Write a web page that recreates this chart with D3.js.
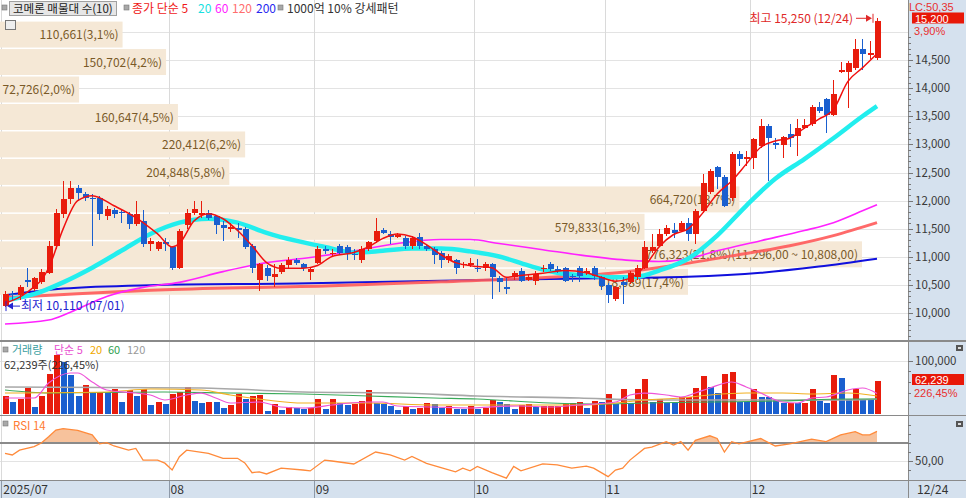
<!DOCTYPE html>
<html>
<head>
<meta charset="utf-8">
<script src="https://cdn.jsdelivr.net/npm/d3@7"></script>
<style>
  body { margin: 0; background: #fff; }
  svg { display: block; font-family: "Noto Sans CJK KR", "Noto Sans", sans-serif; }
  .num { font-family: "Liberation Sans", "DejaVu Sans", sans-serif; }
</style>
</head>
<body>
<svg id="chart" width="966" height="498"></svg>
<script>
// ---- data ----
const monthIdx = [0, 23, 43, 65, 83, 103];
const monthLabels = ["2025/07", "08", "09", "10", "11", "12"];

const opens = [10130,10350,10320,10590,10440,10550,10720,11200,11770,12030,
  12230,12120,12050,12050,11730,11840,11800,11770,11590,11640,
  11240,11150,11260,11170,10810,11560,11790,11750,11790,11730,
  11560,11500,11510,11500,11200,10600,10800,10640,10740,10850,
  10940,10870,10740,10900,11150,11060,11200,11180,11060,10940,
  11150,11290,11480,11400,11370,11340,11200,11360,11200,11150,
  11080,10940,10940,10850,10850,10810,10800,10880,10620,10460,
  10640,10760,10600,10580,10780,10880,10790,10810,10670,10810,
  10710,10800,10640,10500,10250,10550,10550,10640,10810,11110,
  11200,11410,11480,11470,11610,11410,11820,12160,12600,12420,
  12050,12830,12740,12760,12970,13320,13020,12990,13180,13150,
  13300,13360,13660,13800,13530,14290,14280,14350,14700,14590,14530];
const highs = [10400,10400,10500,10800,10650,10780,11290,11850,12350,12350,
  12280,12160,12120,12080,11900,11870,11850,11800,12000,11830,
  11340,11290,11340,11200,11500,11850,12000,12000,11830,11750,
  11640,11600,11610,11540,11230,10900,10860,10880,10900,11000,
  10980,10900,10830,11200,11200,11150,11240,11220,11150,11200,
  11290,11700,11520,11470,11430,11380,11380,11430,11240,11180,
  11100,11050,10970,10920,10980,10960,10920,10900,10670,10620,
  10760,10800,10700,10760,10860,10920,10840,10830,10700,10840,
  10800,10840,10660,10530,10480,10640,10750,10850,11290,11410,
  11500,11560,11610,11640,11700,11850,12470,12560,12620,12450,
  12860,12880,12880,13110,13460,13360,13110,13150,13360,13460,
  13460,13700,13760,13830,14150,14470,14480,14880,14880,14830,15250];
const lows = [10110,10230,10230,10460,10400,10520,10700,11150,11700,11950,
  12000,12000,11200,11650,11650,11700,11600,11500,11550,11170,
  11110,11100,11110,10770,10790,11500,11750,11700,11650,11400,
  11290,11450,11340,11150,10720,10400,10580,10460,10700,10800,
  10850,10750,10600,10880,11050,11000,11040,10950,10940,10900,
  11100,11250,11400,11240,11330,11150,11150,11150,11100,10880,
  10800,10900,10700,10800,10820,10740,10760,10260,10370,10350,
  10600,10560,10570,10500,10740,10750,10720,10560,10560,10560,
  10680,10600,10420,10190,10210,10160,10520,10600,10780,11080,
  11170,11380,11330,11440,11290,11240,11780,12120,12200,11880,
  12000,12610,12610,12560,12940,12350,12920,12760,12950,12800,
  13280,13330,13560,13200,13500,14270,13640,14330,14330,14520,14500];
const closes = [10340,10330,10460,10570,10620,10740,11200,11790,12030,12230,
  12140,12050,12030,11770,11860,11770,11780,11590,11770,11240,
  11290,11260,11240,10800,11470,11790,11860,11790,11700,11560,
  11520,11540,11490,11170,10800,10880,10670,10690,10850,10940,
  10900,10800,10780,11150,11110,11080,11080,11080,11040,11150,
  11260,11470,11430,11360,11390,11200,11340,11200,11150,11030,
  10940,11010,10800,10880,10900,10780,10880,10640,10550,10440,
  10720,10580,10640,10690,10810,10780,10760,10580,10640,10670,
  10760,10670,10480,10320,10460,10500,10710,10810,11170,11170,
  11410,11520,11430,11610,11410,11820,12310,12530,12420,11910,
  12830,12740,12770,13090,13320,13110,12990,13130,13110,13300,
  13340,13660,13590,13530,13900,14330,14440,14700,14600,14630,15200];
const volumes = [33600,23000,28000,49200,13700,33600,74000,110000,98000,73000,
  33600,54000,40000,42000,41000,46000,23000,45000,33600,46000,
  17000,22400,18700,36800,40500,51000,24300,20000,22400,21500,
  10600,17000,36800,28700,33600,35500,5600,18000,7500,13700,
  10600,10000,11000,28700,8700,27400,20000,17000,18700,24300,
  45500,20000,18000,15000,7500,15600,9300,11800,20600,18700,
  11800,15000,9300,9000,15600,9300,11800,26000,21800,18000,
  9300,16800,18700,13700,14200,15200,15600,18700,21000,23000,
  10600,24300,23000,37400,18700,46000,20000,46000,65000,23000,
  27400,21000,20000,31000,32400,48000,71600,51000,40000,74800,
  78000,23000,21800,46000,32400,32000,26000,20000,21000,20000,
  21000,46000,24300,20000,73000,66700,27400,46700,28000,27484,62239];

// moving averages: [day index, value]
const ma5Pts = [[0,10180],[3,10370],[6,10800],[8,11500],[10,12000],[12,12090],[15,11910],[18,11700],[21,11410],[23,11180],[24,11240],[26,11640],[28,11770],[30,11680],[32,11470],[34,11200],[36,10900],[38,10800],[41,10800],[43,10850],[45,11010],[48,11080],[50,11180],[52,11330],[54,11410],[56,11360],[58,11220],[60,11040],[62,10900],[65,10830],[67,10810],[69,10640],[71,10670],[74,10710],[77,10760],[80,10720],[82,10640],[84,10570],[86,10620],[88,10830],[90,11180],[92,11400],[94,11500],[96,11780],[98,12120],[100,12350],[102,12650],[104,12950],[106,13060],[108,13110],[110,13290],[112,13450],[114,13620],[116,14120],[118,14360],[120,14610]];
const ma20Pts = [[0,10230],[4,10340],[8,10550],[12,10810],[16,11110],[20,11410],[24,11610],[28,11680],[32,11610],[36,11430],[40,11290],[44,11180],[48,11080],[52,11110],[56,11150],[60,11150],[64,11100],[68,11010],[72,10850],[76,10720],[80,10670],[84,10640],[87,10650],[90,10760],[94,10970],[98,11380],[102,11910],[106,12390],[110,12740],[114,13110],[118,13500],[120,13680]];
const ma60Pts = [[0,9810],[6,9880],[9,10020],[14,10300],[19,10460],[24,10550],[30,10740],[36,10900],[42,10990],[48,11110],[54,11240],[60,11310],[64,11310],[68,11240],[74,11130],[80,11020],[86,10940],[90,10920],[94,10970],[98,11110],[104,11290],[110,11470],[114,11610],[118,11820],[120,11930]];
const ma120Pts = [[0,10280],[22,10420],[45,10490],[60,10560],[75,10640],[85,10730],[92,10850],[100,11020],[108,11200],[114,11380],[120,11610]];
const ma200Pts = [[0,10320],[8,10440],[20,10500],[40,10530],[60,10580],[80,10620],[94,10650],[104,10720],[112,10830],[120,10970]];

const vma5Pts = [[0,29900],[4,29900],[6,57900],[9,76600],[10,76600],[12,59800],[14,44900],[18,39200],[20,35500],[22,26200],[25,35500],[27,39200],[29,29900],[31,20600],[35,22400],[38,13100],[41,11200],[43,13100],[45,16800],[50,22400],[52,22400],[54,15000],[59,13100],[64,11200],[67,13500],[71,15000],[75,13100],[79,16800],[84,22400],[86,35500],[88,39200],[91,35500],[93,31800],[95,39200],[97,48600],[100,59800],[102,50500],[104,39200],[107,22400],[109,20600],[111,29900],[113,31800],[116,44900],[118,48600],[120,38400]];
const vma20Pts = [[0,39200],[14,41100],[20,46700],[27,44900],[31,35500],[36,26200],[41,20600],[50,20600],[59,16800],[65,16800],[79,16800],[84,20600],[88,26200],[93,29900],[97,35500],[102,39200],[107,39200],[111,37400],[116,39200],[120,33600]];
const vma60Pts = [[0,44900],[6,39200],[22,41100],[31,39200],[41,37400],[50,33600],[59,29900],[65,28000],[75,20600],[82,18700],[88,20600],[97,22400],[107,24300],[116,28000],[120,28000]];
const vma120Pts = [[0,50500],[27,48600],[41,41100],[54,39200],[65,33600],[79,29900],[88,26200],[102,26200],[116,26200],[120,28000]];

const rsiPts = [[0,58.5],[1,56.7],[2,62],[4,66],[5,70],[6,77],[7,84.4],[8,86],[10,84],[12,79],[13,69],[14,70.4],[15,66.7],[17,62],[18,64],[19,51],[21,51],[22,47.6],[23,40],[24,54.8],[25,62],[28,58.5],[30,53],[32,53],[33,47.8],[34,37],[35,38],[36,35.6],[38,42],[41,40],[42,39],[44,51],[45,50],[48,46.7],[51,60],[53,56.7],[55,51],[56,55],[58,47.4],[60,42.6],[62,38],[63,42],[64,39],[65,44],[67,37],[69,31],[70,44],[71,39],[74,46.7],[76,45.6],[78,42],[80,44.4],[81,42],[83,32.6],[84,40],[85,42],[86,51],[88,64],[89,65.5],[91,71.5],[92,67.8],[93,71.5],[94,62],[95,73],[97,78],[98,75],[99,60],[100,71.5],[101,69],[104,75],[106,66.7],[108,69],[111,74.4],[113,71.5],[115,79],[117,82.6],[118,79],[119,79],[120,83]];

// volume profile (매물대), top band first
const profVolumes = [110661,150702,72726,160647,220412,204848,664720,579833,776323,618089];
const profPcts = [3.1,4.2,2.0,4.5,6.2,5.8,18.7,16.3,21.8,17.4];
const profTop = 15200, profStep = 488;

const priceTicks = [10000,10500,11000,11500,12000,12500,13000,13500,14000,14500];

// ---- layout ----
const svg = d3.select("#chart");
const W = 966, H = 498, axisX = 908;
const RED = "#e81c0c", BLUE = "#1a5fcf";

const x = d3.scaleLinear().domain([0, 120]).range([5, 877]);
const step = x(1) - x(0);
const y = d3.scaleLinear().domain([10000, 14500]).range([313.3, 60]);
const yv = d3.scaleLinear().domain([0, 100000]).range([414, 360.5]);
const yr = d3.scaleLinear().domain([50, 70]).range([461, 443]);
const profX = d3.scaleLinear().domain([0, d3.max(profPcts)]).range([0, 862]);
// this terminal prints decimals with a comma: 11296 -> "11,296,00"
const kfmt = v => d3.format(",.2f")(v).replace(".", ",");

const defs = svg.append("defs");
defs.append("clipPath").attr("id", "cMain").append("rect").attr("x", 0).attr("y", 16).attr("width", axisX).attr("height", 324);
defs.append("clipPath").attr("id", "cVol").append("rect").attr("x", 0).attr("y", 343).attr("width", axisX).attr("height", 72);
defs.append("clipPath").attr("id", "cRsiTop").append("rect").attr("x", 0).attr("y", 416).attr("width", axisX).attr("height", yr(70) - 416);

// backgrounds
svg.append("rect").attr("width", W).attr("height", H).attr("fill", "#fff");
svg.append("rect").attr("x", axisX).attr("y", 0).attr("width", W - axisX).attr("height", H).attr("fill", "#d5e1ee");
svg.append("rect").attr("x", 0).attr("y", 481).attr("width", axisX).attr("height", H - 481).attr("fill", "#d5e1ee");

// grid
const grid = svg.append("g").attr("shape-rendering", "crispEdges");
grid.selectAll(".hp").data(priceTicks.concat([15000])).join("line")
  .attr("x1", 0).attr("x2", axisX).attr("y1", d => Math.round(y(d))).attr("y2", d => Math.round(y(d)))
  .attr("stroke", "#e3e3e3");
grid.append("line").attr("x1", 0).attr("x2", axisX).attr("y1", Math.round(yv(100000))).attr("y2", Math.round(yv(100000))).attr("stroke", "#e3e3e3");
grid.append("line").attr("x1", 0).attr("x2", axisX).attr("y1", Math.round(yr(50))).attr("y2", Math.round(yr(50))).attr("stroke", "#e3e3e3");
grid.selectAll(".vm").data(monthIdx).join("line")
  .attr("x1", d => Math.round(x(d) - step / 2)).attr("x2", d => Math.round(x(d) - step / 2))
  .attr("y1", 0).attr("y2", 480).attr("stroke", "#dadada");
grid.selectAll(".vma").data(monthIdx).join("line")
  .attr("x1", d => Math.round(x(d) - step / 2)).attr("x2", d => Math.round(x(d) - step / 2))
  .attr("y1", 481).attr("y2", H).attr("stroke", "#8d99a8");

// volume profile bars
const prof = svg.append("g");
prof.selectAll("rect").data(profPcts).join("rect")
  .attr("x", 0).attr("width", d => profX(d))
  .attr("y", (d, i) => y(profTop - i * profStep) + 1)
  .attr("height", (d, i) => y(profTop - (i + 1) * profStep) - y(profTop - i * profStep) - 1.5)
  .attr("fill", "#f5e8d6");
const maxBand = profPcts.indexOf(d3.max(profPcts));
prof.selectAll("text").data(profPcts).join("text")
  .attr("x", d => profX(d) - 4)
  .attr("y", (d, i) => (y(profTop - i * profStep) + y(profTop - (i + 1) * profStep)) / 2 + 5)
  .attr("text-anchor", "end").attr("font-size", 12).attr("fill", "#7a5a28")
  .text((d, i) => {
    let s = d3.format(",")(profVolumes[i]) + "(" + d.toFixed(1).replace(".", ",") + "%)";
    if (i === maxBand) {
      const hi = profTop - i * profStep, lo = hi - profStep;
      s += "(" + kfmt(hi) + " ~ " + kfmt(lo) + ")";
    }
    return s;
  });

// price moving averages (under candles)
const maLine = d3.line().x(d => x(d[0])).y(d => y(d[1])).curve(d3.curveMonotoneX);
const mg = svg.append("g").attr("clip-path", "url(#cMain)").attr("fill", "none");
mg.append("path").datum(ma200Pts).attr("d", maLine).attr("stroke", "#1010dd").attr("stroke-width", 2);
mg.append("path").datum(ma120Pts).attr("d", maLine).attr("stroke", "#ff5a5a").attr("stroke-width", 3).attr("stroke-opacity", 0.9);
mg.append("path").datum(ma60Pts).attr("d", maLine).attr("stroke", "#ff22ff").attr("stroke-width", 1.6);
mg.append("path").datum(ma20Pts).attr("d", maLine).attr("stroke", "#22eeee").attr("stroke-width", 4.5);

// candles
const cg = svg.append("g").attr("shape-rendering", "crispEdges");
const days = d3.range(closes.length);
const candleColor = i => closes[i] >= opens[i] ? RED : BLUE;
cg.selectAll("line").data(days).join("line")
  .attr("x1", i => Math.round(x(i)) + 0.5).attr("x2", i => Math.round(x(i)) + 0.5)
  .attr("y1", i => y(highs[i])).attr("y2", i => y(lows[i]))
  .attr("stroke", candleColor);
cg.selectAll("rect").data(days).join("rect")
  .attr("x", i => Math.round(x(i)) - 2).attr("width", 6)
  .attr("y", i => y(Math.max(opens[i], closes[i])))
  .attr("height", i => Math.max(1.5, Math.abs(y(opens[i]) - y(closes[i]))))
  .attr("fill", candleColor);

// 5-day line on top
svg.append("path").datum(ma5Pts).attr("d", maLine).attr("fill", "none")
  .attr("stroke", "#f01010").attr("stroke-width", 1.5).attr("clip-path", "url(#cMain)");

// high / low annotations
svg.append("text").attr("x", 853).attr("y", 23).attr("text-anchor", "end")
  .attr("font-size", 12).attr("fill", "#e02828").text("최고 15,250 (12/24)");
svg.append("line").attr("x1", 856).attr("x2", 868).attr("y1", y(15250) + 0.5).attr("y2", y(15250) + 0.5).attr("stroke", "#e02828");
svg.append("path").attr("d", `M872,${y(15250) + 0.5} l-6,-3.5 v7 z`).attr("fill", "#e02828");
svg.append("line").attr("x1", 873).attr("x2", 873).attr("y1", y(15250) - 4).attr("y2", y(15250) + 5).attr("stroke", "#e02828");

svg.append("text").attr("x", 21).attr("y", 310)
  .attr("font-size", 12).attr("fill", "#2424d0").text("최저 10,110 (07/01)");
svg.append("line").attr("x1", 11).attr("x2", 20).attr("y1", y(10110) - 1).attr("y2", y(10110) - 1).attr("stroke", "#2424d0");
svg.append("path").attr("d", `M7,${y(10110) - 1} l6,-3.5 v7 z`).attr("fill", "#2424d0");
svg.append("line").attr("x1", 6).attr("x2", 6).attr("y1", y(10110) - 6).attr("y2", y(10110) + 4).attr("stroke", "#2424d0");

// top legend
const lg = svg.append("g").attr("font-size", 12);
function sq(g, px, py) {
  g.append("rect").attr("x", px).attr("y", py).attr("width", 5).attr("height", 5)
    .attr("fill", "#a8a8a8").attr("stroke", "#777").attr("stroke-width", 0.6);
}
sq(lg, 2, 5);
lg.append("rect").attr("x", 9.5).attr("y", 1.5).attr("width", 107).attr("height", 14)
  .attr("fill", "#e6e6e6").attr("stroke", "#a0a0a0");
lg.append("text").attr("x", 13).attr("y", 13).attr("fill", "#222").attr("font-size", 11.5).text("코메론 매물대 수(10)");
sq(lg, 124, 5);
const legItems = [["종가 단순 5", "#f01818", 132], ["20", "#18e0e0", 198], ["60", "#ff22ff", 215], ["120", "#ff6e6e", 232], ["200", "#2828f0", 256]];
legItems.forEach(d => lg.append("text").attr("x", d[2]).attr("y", 13).attr("fill", d[1]).text(d[0]));
sq(lg, 278, 5);
lg.append("text").attr("x", 287).attr("y", 13).attr("fill", "#333").text("1000억 10% 강세패턴");
lg.append("rect").attr("x", 5.5).attr("y", 20.5).attr("width", 10).attr("height", 9)
  .attr("fill", "#eee").attr("stroke", "#777");

// panel separators
const sep = svg.append("g").attr("shape-rendering", "crispEdges");
[[341, "#8a8a8a", 2], [415.5, "#8a8a8a", 1.5], [480.5, "#8a8a8a", 1.5]].forEach(d =>
  sep.append("line").attr("x1", 0).attr("x2", W).attr("y1", d[0]).attr("y2", d[0]).attr("stroke", d[1]).attr("stroke-width", d[2]));
sep.append("line").attr("x1", axisX + 0.5).attr("x2", axisX + 0.5).attr("y1", 0).attr("y2", H).attr("stroke", "#8a8a8a");

// volume bars
const vg = svg.append("g").attr("shape-rendering", "crispEdges").attr("clip-path", "url(#cVol)");
const volColor = i => (i === 0 || volumes[i] > volumes[i - 1]) ? RED : BLUE;
vg.selectAll("rect").data(days).join("rect")
  .attr("x", i => Math.round(x(i)) - 2.5).attr("width", 6.5)
  .attr("y", i => yv(volumes[i])).attr("height", i => yv(0) - yv(volumes[i]))
  .attr("fill", volColor);
const vLine = d3.line().x(d => x(d[0])).y(d => yv(d[1])).curve(d3.curveMonotoneX);
const vl = svg.append("g").attr("fill", "none").attr("clip-path", "url(#cVol)");
vl.append("path").datum(vma120Pts).attr("d", vLine).attr("stroke", "#a8a8a8").attr("stroke-width", 1.6);
vl.append("path").datum(vma60Pts).attr("d", vLine).attr("stroke", "#3aaa5a").attr("stroke-width", 1.1);
vl.append("path").datum(vma20Pts).attr("d", vLine).attr("stroke", "#f2b020").attr("stroke-width", 1.1);
vl.append("path").datum(vma5Pts).attr("d", vLine).attr("stroke", "#ee55d8").attr("stroke-width", 1.2);

const vlg = svg.append("g").attr("font-size", 11);
sq(vlg, 3, 347);
[["거래량", "#3a9ea0", 12], ["단순 5", "#e850d0", 54], ["20", "#f0a800", 90], ["60", "#30a050", 108], ["120", "#9a9a9a", 127]]
  .forEach(d => vlg.append("text").attr("x", d[2]).attr("y", 353.5).attr("fill", d[1]).text(d[0]));
vlg.append("text").attr("x", 4).attr("y", 368.5).attr("fill", "#333").attr("font-size", 11).text("62,239주(226,45%)");

// RSI
const rLine = d3.line().x(d => x(d[0])).y(d => yr(d[1]));
const rArea = d3.area().x(d => x(d[0])).y0(yr(70)).y1(d => yr(d[1]));
svg.append("path").datum(rsiPts).attr("d", rArea).attr("fill", "#f7c29c").attr("clip-path", "url(#cRsiTop)");
svg.append("line").attr("x1", 0).attr("x2", axisX).attr("y1", yr(70)).attr("y2", yr(70))
  .attr("stroke", "#8a8a8a").attr("stroke-width", 1.5).attr("shape-rendering", "crispEdges");
svg.append("path").datum(rsiPts).attr("d", rLine).attr("fill", "none").attr("stroke", "#ff8a3a").attr("stroke-width", 1.3);
sq(svg, 3, 421);
svg.append("text").attr("x", 13).attr("y", 430).attr("font-size", 11.5).attr("fill", "#ff7a30").text("RSI 14");

// right price axis
const ax = svg.append("g").attr("font-size", 11.5).attr("fill", "#3a3a3a").attr("shape-rendering", "crispEdges");
const minor = d3.range(9600, 15300, 100).filter(v => y(v) > 36 && y(v) < 338);
ax.selectAll(".mn").data(minor).join("line")
  .attr("x1", axisX).attr("x2", d => axisX + (d % 500 === 0 ? 5 : 3))
  .attr("y1", d => Math.round(y(d)) + 0.5).attr("y2", d => Math.round(y(d)) + 0.5).attr("stroke", "#777");
ax.selectAll("text").data(priceTicks).join("text")
  .attr("x", axisX + 7).attr("y", d => y(d) + 4).text(d => d3.format(",")(d));

const tag = svg.append("g").attr("class", "num").attr("font-size", 11);
tag.append("text").attr("x", 909).attr("y", 10.5).attr("fill", "#e83030").text("LC:50,35");
tag.append("rect").attr("x", 912).attr("y", 12.5).attr("width", 52).attr("height", 11).attr("fill", "#e81808");
tag.append("text").attr("x", 915).attr("y", 22.5).attr("fill", "#fff").text(d3.format(",")(closes[closes.length - 1]));
tag.append("text").attr("x", 914).attr("y", 35).attr("fill", "#e83030").text("3,90%");

// right volume axis
const vTicks = d3.range(20000, 120000, 20000).filter(v => yv(v) > 344);
svg.append("g").attr("shape-rendering", "crispEdges").selectAll("line").data(vTicks).join("line")
  .attr("x1", axisX).attr("x2", d => axisX + (d === 100000 ? 5 : 3))
  .attr("y1", d => Math.round(yv(d)) + 0.5).attr("y2", d => Math.round(yv(d)) + 0.5).attr("stroke", "#777");
svg.append("text").attr("x", axisX + 7).attr("y", yv(100000) + 4).attr("font-size", 11.5).attr("fill", "#3a3a3a").text("100,000");
tag.append("rect").attr("x", 912).attr("y", 374).attr("width", 52).attr("height", 11).attr("fill", "#e81808");
tag.append("text").attr("x", 915).attr("y", 384).attr("fill", "#fff").text(d3.format(",")(volumes[volumes.length - 1]));
tag.append("text").attr("x", 914).attr("y", 396.5).attr("fill", "#e83030").text("226,45%");

// right RSI axis
const rTicks = d3.range(30, 100, 10).filter(v => yr(v) > 418 && yr(v) < 479);
svg.append("g").attr("shape-rendering", "crispEdges").selectAll("line").data(rTicks).join("line")
  .attr("x1", axisX).attr("x2", d => axisX + (d === 50 ? 5 : 3))
  .attr("y1", d => Math.round(yr(d)) + 0.5).attr("y2", d => Math.round(yr(d)) + 0.5).attr("stroke", "#777");
svg.append("text").attr("x", axisX + 7).attr("y", yr(50) + 4).attr("font-size", 11.5).attr("fill", "#3a3a3a").text("50,00");

// little panel buttons
[345, 421].forEach(py => {
  svg.append("rect").attr("x", 956).attr("y", py).attr("width", 7).attr("height", 6).attr("fill", "#555");
  svg.append("rect").attr("x", 958).attr("y", py + 2).attr("width", 3).attr("height", 2).attr("fill", "#ddd");
});

// x axis labels
svg.append("g").attr("font-size", 12).attr("fill", "#333").selectAll("text").data(monthIdx).join("text")
  .attr("x", d => Math.max(2, x(d) - step / 2 + 2)).attr("y", 494)
  .text((d, i) => monthLabels[i]);
svg.append("text").attr("x", 917).attr("y", 494).attr("font-size", 12).attr("fill", "#333").text("12/24");
</script>
</body>
</html>
